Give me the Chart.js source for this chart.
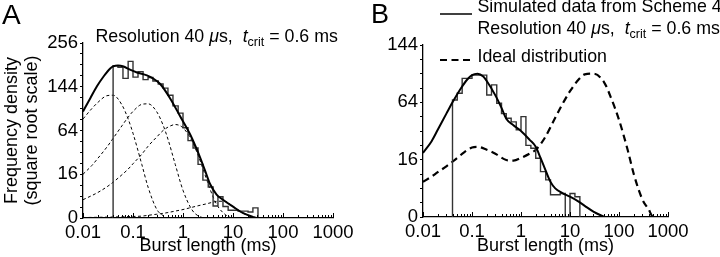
<!DOCTYPE html>
<html>
<head>
<meta charset="utf-8">
<script src="https://cdn.jsdelivr.net/npm/chart.js@4/dist/chart.umd.min.js"></script>
<style>
    body { margin: 0; background: #fff; }
    #wrap { position: relative; width: 720px; height: 257px; overflow: hidden; font-family: "Liberation Sans", Arial, sans-serif; color: #000; }
    canvas { position: absolute; top: 0; }
    .txt { position: absolute; white-space: nowrap; font-size: 17.8px; line-height: 17.8px; }
    .sub { font-size: 12.5px; position: relative; top: 4px; }
    .big { position: absolute; line-height: 1; }
</style>
</head>
<body>
<div id="wrap">
    <canvas id="chartA" width="360" height="257" style="left:0"></canvas>
    <canvas id="chartB" width="360" height="257" style="left:360px"></canvas>

    <div class="big" style="left:2px;top:1px;font-size:28px">A</div>
    <div class="txt" style="left:95.5px;top:27.5px">Resolution 40 <i>μ</i>s,&nbsp; <i>t</i><span class="sub">crit</span> = 0.6 ms</div>

    <div class="big" style="left:371px;top:1px;font-size:27px">B</div>
    <svg style="position:absolute;left:0;top:0" width="720" height="257">
        <line x1="440" y1="14" x2="472" y2="14" stroke="#000" stroke-width="1.5"/>
        <line x1="440" y1="60" x2="471" y2="60" stroke="#000" stroke-width="1.8" stroke-dasharray="7 4.5"/>
    </svg>
    <div class="txt" style="left:477.5px;top:-2.5px">Simulated data from Scheme 4</div>
    <div class="txt" style="left:477.5px;top:19.5px">Resolution 40 <i>μ</i>s,&nbsp; <i>t</i><span class="sub">crit</span> = 0.6 ms</div>
    <div class="txt" style="left:477.5px;top:48px">Ideal distribution</div>
</div>

<script>
    // Axes
    const X_TICKS = [0.01, 0.1, 1, 10, 100, 1000];
    const X_TICK_LABELS = ['0.01', '0.1', '1', '10', '100', '1000'];
    const X_MINOR = [2, 3, 4, 5, 6, 7, 8, 9];
    const A_Y_TICKS = [0, 16, 64, 144, 256];
    const B_Y_TICKS = [0, 16, 64, 144];

    // Panel A: fitted curve + 4 components
    const A_FIT_X = [0.01, 0.014, 0.019, 0.026, 0.035, 0.04, 0.05, 0.065, 0.087, 0.12, 0.19, 0.25, 0.35, 0.55, 0.87, 1.4, 2, 2.75, 3.5, 4.7, 6.4, 10, 16, 25, 30, 50];
    const A_FIT = [95, 120, 145, 168, 187, 192, 194.5, 192, 184, 177, 170, 163, 150, 120, 87, 58, 36, 19, 9.5, 4.6, 2.7, 1.07, 0.19, 0.01, 0, 0];

    const A_COMP_X = [0.01, 0.015, 0.02, 0.03, 0.04, 0.06, 0.08, 0.1, 0.15, 0.2, 0.3, 0.4, 0.5, 0.7, 1, 1.5, 2, 3, 4, 5, 7, 10, 15, 20, 30, 50];
    const A_COMP1 = [82, 100, 112, 125, 126, 107, 82, 60, 24, 8, 0.6, 0.05, 0, 0, 0, 0, 0, 0, 0, 0, 0, 0, 0, 0, 0, 0];
    const A_COMP2 = [16, 23, 30, 42, 53, 71, 85, 95, 108, 109, 94, 72, 52, 24, 6.4, 0.6, 0.04, 0, 0, 0, 0, 0, 0, 0, 0, 0];
    const A_COMP3 = [2.8, 4.2, 5.5, 8.1, 10.7, 15.6, 20, 24.6, 34, 43, 55, 64, 69, 73, 68, 50, 33, 12, 3.7, 1.1, 0.1, 0, 0, 0, 0, 0];
    const A_COMP4 = [0.002, 0.003, 0.004, 0.006, 0.008, 0.012, 0.016, 0.02, 0.03, 0.06, 0.12, 0.18, 0.25, 0.4, 0.6, 0.95, 1.25, 1.7, 2.1, 2.35, 2.3, 1.05, 0.25, 0.05, 0, 0];

    // Panel A: histogram
    const A_BIN_EDGES = [0.04, 0.05, 0.063, 0.08, 0.1, 0.126, 0.159, 0.2, 0.25, 0.32, 0.4, 0.5, 0.63, 0.8, 1.0, 1.26, 1.59, 2.0, 2.5, 3.2, 4.0, 5.0, 6.3, 8.0, 10, 12.6, 15.9, 20, 25, 31.6];
    const A_BIN_VALUES = [194, 190, 163, 205, 166, 179, 160, 165, 157, 150, 141, 126, 105, 92, 68, 50, 41, 24, 12, 8, 1.2, 3.8, 1.1, 0.5, 0.5, 0.4, 0.4, 0.3, 0.85];

    // Panel B: fit to simulated data, ideal distribution
    const B_FIT_X = [0.01, 0.015, 0.02, 0.03, 0.04, 0.06, 0.08, 0.1, 0.13, 0.17, 0.2, 0.3, 0.4, 0.5, 0.7, 1, 1.5, 2, 2.5, 3, 4, 5, 7, 10, 15, 20, 30, 50];
    const B_FIT = [20, 28, 37, 52, 64, 81, 92, 98, 100, 96, 90, 72, 58, 47, 41, 36, 29, 24, 17, 12, 6, 4, 2.8, 2, 1.15, 0.6, 0.14, 0];

    const B_IDEAL_X = [0.01, 0.015, 0.02, 0.03, 0.05, 0.07, 0.1, 0.13, 0.2, 0.3, 0.5, 0.7, 1, 1.5, 2, 3, 5, 7, 10, 15, 20, 30, 50, 70, 100, 150, 200, 300, 400, 500, 700];
    const B_IDEAL = [6, 8, 9.8, 12.5, 17, 20.5, 23.5, 24, 22, 19.5, 15.8, 15.5, 17, 19.5, 22, 30, 48, 62, 77, 92, 99, 100, 88, 68, 46, 22, 9, 1.5, 0.3, 0, 0];

    // Panel B: histogram
    const B_BIN_EDGES = [0.04, 0.05, 0.063, 0.08, 0.1, 0.126, 0.159, 0.2, 0.25, 0.32, 0.4, 0.5, 0.63, 0.8, 1.0, 1.26, 1.59, 2.0, 2.5, 3.2, 4.0, 5.0, 6.3, 8.0, 10, 12.6, 15.9];
    const B_BIN_VALUES = [66.7, 74.5, 93.6, 93.6, 98, 98, 98, 72.5, 85, 63, 52, 47.5, 44, 37, 49, 25, 23, 16.8, 10, 6.7, 2.4, 2.4, 2.7, 0, 2.7, 2.0];

    const TICK_FONT = { family: 'Liberation Sans', size: 18.5, lineHeight: 1.15 };
    const TITLE_FONT = { family: 'Liberation Sans', size: 18, lineHeight: 1.1 };

    // square root scale: plot sqrt of the density
    const curve = (xs, vs) => xs.map((x, i) => ({ x: x, y: Math.sqrt(vs[i]) }));

    function histPoints(edges, vals) {
        const pts = [{ x: edges[0], y: 0 }];
        vals.forEach((v, i) => {
            pts.push({ x: edges[i], y: Math.sqrt(v) });
            pts.push({ x: edges[i + 1], y: Math.sqrt(v) });
        });
        pts.push({ x: edges[edges.length - 1], y: 0 });
        return pts;
    }

    // log ticks pointing into the plot
    const innerTicks = {
        id: 'innerTicks',
        afterDraw(chart) {
            const xs = chart.scales.x;
            const bottom = chart.chartArea.bottom;
            const ctx = chart.ctx;
            ctx.save();
            ctx.strokeStyle = '#000';
            ctx.lineWidth = 1;
            ctx.beginPath();
            X_TICKS.forEach((base, i) => {
                const px = Math.round(xs.getPixelForValue(base)) + 0.5;
                ctx.moveTo(px, bottom);
                ctx.lineTo(px, bottom - 5);
                if (i === X_TICKS.length - 1) return;
                X_MINOR.forEach(m => {
                    const p = Math.round(xs.getPixelForValue(base * m)) + 0.5;
                    ctx.moveTo(p, bottom);
                    ctx.lineTo(p, bottom - 3);
                });
            });
            ctx.stroke();
            ctx.restore();
        }
    };

    function makePanel(id, cfg) {
        return new Chart(document.getElementById(id), {
            type: 'line',
            data: { datasets: cfg.datasets },
            options: {
                responsive: false,
                animation: false,
                layout: { padding: { top: cfg.top, right: cfg.right, left: 0, bottom: 0 } },
                plugins: { legend: { display: false }, tooltip: { enabled: false } },
                elements: { point: { radius: 0 } },
                scales: {
                    x: {
                        type: 'logarithmic',
                        min: 0.01,
                        max: 1000,
                        afterBuildTicks: s => { s.ticks = X_TICKS.map(v => ({ value: v })); },
                        afterFit: s => { s.height = cfg.xHeight; },
                        grid: { display: false, drawTicks: false, tickLength: 0 },
                        border: { display: true, color: '#000', width: 1.3 },
                        ticks: {
                            autoSkip: false, maxRotation: 0, padding: 4,
                            color: '#000', font: TICK_FONT,
                            callback: (v, i) => X_TICK_LABELS[i]
                        },
                        title: { display: true, text: 'Burst length (ms)', color: '#000', font: TITLE_FONT, padding: { top: 0, bottom: 1 } }
                    },
                    y: {
                        min: 0,
                        max: Math.sqrt(cfg.yTicks[cfg.yTicks.length - 1]),
                        afterFit: s => { s.width = cfg.yWidth; },
                        grid: { display: true, drawOnChartArea: false, drawTicks: true, tickLength: 3, color: '#000', lineWidth: 1 },
                        border: { display: true, color: '#000', width: 1.3 },
                        ticks: {
                            stepSize: 1, autoSkip: false, padding: 2,
                            color: '#000', font: TICK_FONT,
                            callback: v => {
                                const sq = Math.round(v * v);
                                return cfg.yTicks.includes(sq) ? String(sq) : '';
                            }
                        },
                        title: cfg.yTitle
                            ? { display: true, text: cfg.yTitle, color: '#000', font: TITLE_FONT, padding: { top: 2, bottom: 0 } }
                            : { display: false }
                    }
                }
            },
            plugins: [innerTicks]
        });
    }

    const comp = data => ({
        data: data, borderColor: '#000', borderWidth: 1, borderDash: [3, 2.5],
        cubicInterpolationMode: 'monotone', fill: false
    });

    makePanel('chartA', {
        top: 43, right: 27, xHeight: 39, yWidth: 83,
        yTicks: A_Y_TICKS,
        yTitle: ['Frequency density', '(square root scale)'],
        datasets: [
            { data: curve(A_FIT_X, A_FIT), borderColor: '#000', borderWidth: 2, cubicInterpolationMode: 'monotone' },
            { data: histPoints(A_BIN_EDGES, A_BIN_VALUES), borderColor: '#333', borderWidth: 1.4, tension: 0 },
            comp(curve(A_COMP_X, A_COMP1)),
            comp(curve(A_COMP_X, A_COMP2)),
            comp(curve(A_COMP_X, A_COMP3)),
            comp(curve(A_COMP_X, A_COMP4))
        ]
    });

    makePanel('chartB', {
        top: 45, right: 52, xHeight: 40, yWidth: 63,
        yTicks: B_Y_TICKS,
        yTitle: null,
        datasets: [
            { data: curve(B_FIT_X, B_FIT), borderColor: '#000', borderWidth: 2, cubicInterpolationMode: 'monotone' },
            { data: histPoints(B_BIN_EDGES, B_BIN_VALUES), borderColor: '#333', borderWidth: 1.4, tension: 0 },
            { data: curve(B_IDEAL_X, B_IDEAL), borderColor: '#000', borderWidth: 2.2, borderDash: [7, 4.5], cubicInterpolationMode: 'monotone' }
        ]
    });
</script>
</body>
</html>
